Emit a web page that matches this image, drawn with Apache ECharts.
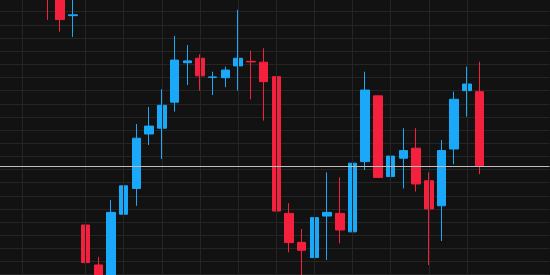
<!DOCTYPE html>
<html>
<head>
<meta charset="utf-8">
<style>
html,body{margin:0;padding:0;background:#121212;}
#c{width:550px;height:275px;}
</style>
<script src="https://cdn.jsdelivr.net/npm/echarts@6/dist/echarts.min.js"></script>
</head>
<body>
<div id="c"></div>
<script>
const categories = ['0','1','2','3','4','5','6','7','8','9','10','11','12','13','14','15','16','17','18','19','20','21','22','23','24','25','26','27','28','29','30','31','32','33','34','35','36','37','38','39','40','41','42','43'];
const opens  = [null,null,null,null,111.60,110.90,109.85,101.89,100.37,99.70,102.30,103.28,105.35,105.57,106.56,108.06,108.23,107.50,107.49,107.94,108.11,108.08,107.53,102.33,101.23,100.65,102.23,102.33,101.63,104.30,106.80,103.73,104.43,104.81,103.57,102.62,104.78,107.00,106.96,null,null,null,null,null];
const closes = [null,null,null,null,111.10,109.70,109.88,100.46,99.61,102.37,103.38,105.19,105.65,106.44,108.16,108.13,107.56,107.52,107.78,108.23,108.09,107.34,102.42,101.22,100.93,102.17,102.37,101.70,104.24,107.02,103.70,104.51,104.72,103.45,102.50,104.72,106.67,107.25,104.14,null,null,null,null,null];
const lows   = [null,null,null,null,109.69,109.24,109.04,99.72,99.50,99.50,100.37,102.62,104.93,104.40,106.20,107.21,107.00,106.83,107.13,107.00,106.67,105.86,101.95,100.85,99.61,99.60,100.56,101.19,100.37,103.98,103.68,101.41,103.28,103.16,100.37,101.28,104.20,106.01,103.82,null,null,null,null,null];
const highs  = [null,null,null,null,111.90,111.20,110.70,102.50,100.68,102.84,103.60,105.73,106.38,107.05,109.08,108.73,108.38,107.72,107.91,110.07,108.52,108.61,107.97,102.72,101.74,102.50,103.89,103.70,104.68,107.72,106.82,104.74,105.57,105.57,103.89,105.12,106.96,107.91,108.10,null,null,null,null,null];
const lastPrice = 104.14;
const gridIdx = [2,7,10,13,16,19,22,25,28,31,34,37];

const candleData = categories.map((c, i) => opens[i] == null ? '-' : [opens[i], closes[i], lows[i], highs[i]]);

const chart = echarts.init(document.getElementById('c'), null, {renderer: 'canvas'});
const gridColor = '#252525';
chart.setOption({
  animation: false,
  backgroundColor: '#121212',
  grid: {left: -9.71, width: 559.24, top: -1.45, height: 289.3, outerBoundsMode: 'none', containLabel: false},
  xAxis: {
    type: 'category', data: categories, boundaryGap: true,
    axisLine: {show: false}, axisTick: {show: false}, axisLabel: {show: false},
    splitLine: {show: false}
  },
  yAxis: {
    type: 'value', min: 99.5, max: 110.5, interval: 0.5,
    axisLine: {show: false}, axisTick: {show: false}, axisLabel: {show: false},
    splitLine: {show: true, lineStyle: {color: gridColor, width: 1}}
  },
  series: [
    {
      type: 'line', data: categories.map(() => '-'), z: 1, silent: true,
      showSymbol: false,
      markLine: {
        silent: true, symbol: ['none', 'none'], animation: false,
        label: {show: false},
        emphasis: {disabled: true},
        data: gridIdx.map(i => ({xAxis: categories[i], lineStyle: {color: gridColor, width: 1, type: 'solid'}}))
          .concat([{yAxis: lastPrice, lineStyle: {color: '#bdbdbd', width: 1, type: 'solid'}}])
      }
    },
    {
      type: 'candlestick', data: candleData, z: 3, barWidth: 9,
      itemStyle: {color: '#1aa9f8', color0: '#f5203e', borderColor: '#1aa9f8', borderColor0: '#f5203e', borderWidth: 1}
    }
  ]
});
</script>
</body>
</html>
